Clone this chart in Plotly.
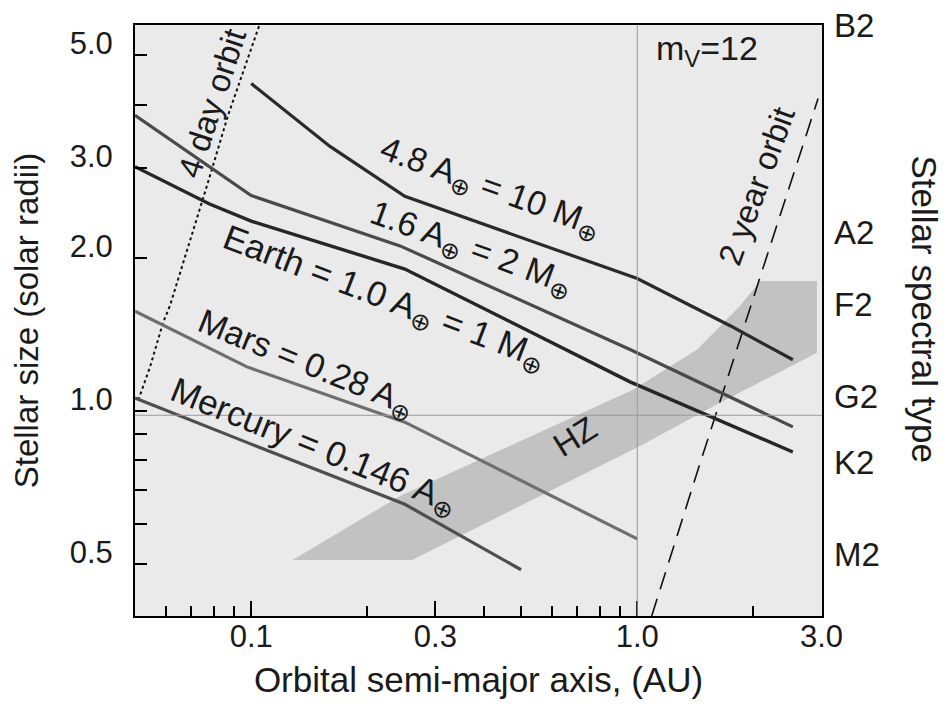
import numpy as np
import plotly.graph_objects as go

# ---- data (semi-major axis in AU, stellar radius in solar radii)
a48_x = [0.10, 0.16, 0.25, 1.00, 1.74, 2.53]
a48_y = [4.40, 3.31, 2.64, 1.82, 1.47, 1.26]
a16_x = [0.05, 0.10, 0.243, 0.958, 2.53]
a16_y = [3.81, 2.65, 2.11, 1.32, 0.93]
earth_x = [0.05, 0.078, 0.10, 0.25, 0.958, 2.53]
earth_y = [3.02, 2.55, 2.36, 1.90, 1.14, 0.83]
mars_x = [0.05, 0.0975, 0.25, 1.00]
mars_y = [1.57, 1.22, 0.95, 0.56]
merc_x = [0.05, 0.10, 0.25, 0.50]
merc_y = [1.06, 0.86, 0.655, 0.487]
day4_x = [0.051, 0.0547, 0.0591, 0.0616, 0.0768, 0.0871, 0.098, 0.1054]
day4_y = [1.05, 1.22, 1.49, 1.61, 2.77, 3.81, 4.93, 5.78]
yr2_x = [1.09, 1.44, 2.16, 2.94]
yr2_y = [0.395, 0.77, 2.00, 4.11]
hz_x = [0.128, 0.243, 0.975, 1.43, 1.85, 2.08, 2.92, 2.92, 1.57, 1.00, 0.261, 0.128]
hz_y = [0.509, 0.68, 1.10, 1.32, 1.61, 1.80, 1.80, 1.30, 1.02, 0.847, 0.509, 0.509]

ref_a = 1.0        # vertical reference line (1 AU)
ref_r = 0.98       # horizontal reference line (Sun / G2)

x_ticks = [0.1, 0.3, 1.0, 3.0]
x_ticktext = ["0.1", "0.3", "1.0", "3.0"]
x_minor = [0.06, 0.07, 0.08, 0.09, 0.2, 0.4, 0.5, 0.6, 0.7, 0.8, 0.9, 2.0]
y_ticks = [0.5, 1.0, 2.0, 3.0, 5.0]
y_ticktext = ["0.5", "1.0", "2.0", "3.0", "5.0"]
y_minor = [0.6, 0.7, 0.8, 0.9, 4.0]

spec_types = ["B2", "A2", "F2", "G2", "K2", "M2"]
spec_radii = [5.72, 2.24, 1.615, 1.065, 0.79, 0.521]

FONT = "Liberation Sans, Arial, sans-serif"
INK = "#1a1a1a"

fig = go.Figure()

fig.add_trace(go.Scatter(x=hz_x, y=hz_y, fill="toself", fillcolor="#c2c2c2",
                         line=dict(width=0), mode="lines", hoverinfo="skip", name="HZ"))

fig.add_hline(y=ref_r, line=dict(color="#9a9a9a", width=1))
fig.add_vline(x=ref_a, line=dict(color="#9a9a9a", width=1))

fig.add_trace(go.Scatter(x=day4_x, y=day4_y, mode="lines",
                         line=dict(color="#111", width=2, dash="dot"), name="4 day orbit"))
fig.add_trace(go.Scatter(x=yr2_x, y=yr2_y, mode="lines",
                         line=dict(color="#111", width=1.6, dash="18px,10px"), name="2 year orbit"))

fig.add_trace(go.Scatter(x=a48_x, y=a48_y, mode="lines", line=dict(color="#2a2a2a", width=3.2), name="4.8"))
fig.add_trace(go.Scatter(x=a16_x, y=a16_y, mode="lines", line=dict(color="#4a4a4a", width=3.2), name="1.6"))
fig.add_trace(go.Scatter(x=earth_x, y=earth_y, mode="lines", line=dict(color="#262626", width=3.4), name="Earth"))
fig.add_trace(go.Scatter(x=mars_x, y=mars_y, mode="lines", line=dict(color="#6e6e6e", width=3.2), name="Mars"))
fig.add_trace(go.Scatter(x=merc_x, y=merc_y, mode="lines", line=dict(color="#4e4e4e", width=3.2), name="Mercury"))

E = "A<sub>⊕</sub>"
M = "M<sub>⊕</sub>"
labels = [
    ("4.8 " + E + " = 10 " + M, 0.416, 2.73, 20, 34),
    ("1.6 " + E + " = 2 " + M, 0.373, 2.08, 20, 34),
    ("Earth = 1.0 " + E + " = 1 " + M, 0.222, 1.66, 21, 35),
    ("Mars = 0.28 " + E, 0.139, 1.235, 22, 34),
    ("Mercury = 0.146 " + E, 0.145, 0.85, 22, 35),
    ("HZ", 0.69, 0.89, -32, 33),
    ("4 day orbit", 0.079, 4.02, -72, 33),
    ("2 year orbit", 2.04, 2.77, -70, 33),
]
for txt, lx, ly, ang, fs in labels:
    fig.add_annotation(x=np.log10(lx), y=np.log10(ly), xref="x", yref="y", text=txt,
                       showarrow=False, textangle=ang, font=dict(size=fs, color=INK, family=FONT))

fig.add_annotation(x=np.log10(1.52), y=np.log10(5.12), xref="x", yref="y",
                   text="m<sub>V</sub>=12", showarrow=False,
                   font=dict(size=34, color=INK, family=FONT))

for s, r in zip(spec_types, spec_radii):
    fig.add_annotation(x=1.015, y=np.log10(r), xref="paper", yref="y", text=s,
                       showarrow=False, xanchor="left",
                       font=dict(size=33, color=INK, family=FONT))

fig.add_annotation(x=1.18, y=0.52, xref="paper", yref="paper", text="Stellar spectral type",
                   showarrow=False, textangle=90, font=dict(size=35, color=INK, family=FONT))

# the page adds an 8px body margin, so margins are offset by 8px
fig.update_layout(
    width=949, height=707,
    margin=dict(l=127, r=135, t=17, b=99),
    paper_bgcolor="white", plot_bgcolor="#eaeaea",
    showlegend=False,
    font=dict(family=FONT, color=INK),
    xaxis=dict(type="log", range=[np.log10(0.05), np.log10(3.01)], automargin=False,
               tickvals=x_ticks, ticktext=x_ticktext, ticks="inside", ticklen=15,
               tickwidth=2, tickcolor="black", tickfont=dict(size=31, family=FONT, color=INK),
               ticklabelstandoff=-8,
               minor=dict(tickvals=x_minor, ticks="inside", ticklen=10, tickwidth=2,
                          tickcolor="black", showgrid=False),
               showline=True, linewidth=2, linecolor="black", mirror=True,
               showgrid=False, zeroline=False,
               title=dict(text="Orbital semi-major axis, (AU)", standoff=14,
                          font=dict(size=35, family=FONT, color=INK))),
    yaxis=dict(type="log", range=[np.log10(0.395), np.log10(5.735)], automargin=False,
               tickvals=y_ticks, ticktext=y_ticktext, ticks="inside", ticklen=12,
               tickwidth=2, tickcolor="black", tickfont=dict(size=31, family=FONT, color=INK),
               ticklabelstandoff=14, ticklabelshift=-12,
               minor=dict(tickvals=y_minor, ticks="inside", ticklen=12, tickwidth=2,
                          tickcolor="black", showgrid=False),
               showline=True, linewidth=2, linecolor="black", mirror=True,
               showgrid=False, zeroline=False,
               title=dict(text="Stellar size (solar radii)", standoff=32,
                          font=dict(size=33, family=FONT, color=INK))),
)

fig.write_html("out.html")
